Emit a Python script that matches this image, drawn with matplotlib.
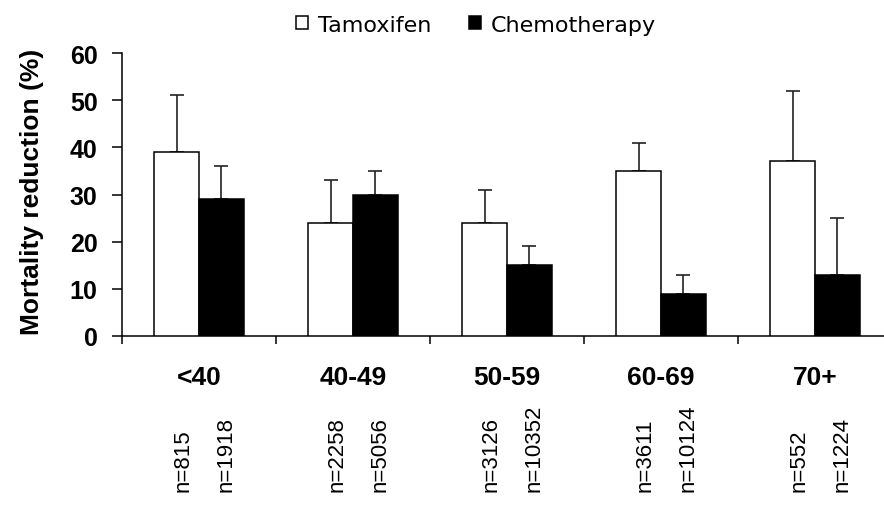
import numpy as np
import matplotlib
matplotlib.use('Agg')
import matplotlib.pyplot as plt
from matplotlib.transforms import blended_transform_factory

# data
ages = ['<40', '40-49', '50-59', '60-69', '70+']
tamoxifen = [39, 24, 24, 35, 37]
tamoxifen_err = [12, 9, 7, 6, 15]
chemo = [29, 30, 15, 9, 13]
chemo_err = [7, 5, 4, 4, 12]
n_tamoxifen = ['n=815', 'n=2258', 'n=3126', 'n=3611', 'n=552']
n_chemo = ['n=1918', 'n=5056', 'n=10352', 'n=10124', 'n=1224']

plt.rcParams['font.family'] = ['Liberation Sans', 'DejaVu Sans']

fig = plt.figure(figsize=(8.84, 5.10), dpi=100)
ax = fig.add_axes([122/884, 173/510, 770/884, 283/510])

x = np.arange(len(ages))
w = 0.29
b1 = ax.bar(x - w/2, tamoxifen, w, color='white', edgecolor='black', linewidth=1.1,
            label='Tamoxifen', zorder=3)
b2 = ax.bar(x + w/2, chemo, w, color='black', edgecolor='black', linewidth=1.1,
            label='Chemotherapy', zorder=3)
ax.errorbar(x - w/2, tamoxifen, yerr=[np.zeros(5), tamoxifen_err], fmt='none',
            ecolor='#222222', elinewidth=1.2, capsize=5, capthick=1.2, zorder=2)
ax.errorbar(x + w/2, chemo, yerr=[np.zeros(5), chemo_err], fmt='none',
            ecolor='#222222', elinewidth=1.2, capsize=5, capthick=1.2, zorder=2)

ax.set_xlim(-0.5, 4.5)
ax.set_ylim(0, 60)
ax.set_yticks(range(0, 61, 10))
ax.set_xticks(np.arange(-0.5, 4.6, 1))
ax.set_xticklabels([])
for s in ['top', 'right']:
    ax.spines[s].set_visible(False)
ax.spines['left'].set_linewidth(1.1)
ax.spines['bottom'].set_linewidth(1.1)
ax.tick_params(axis='y', direction='out', length=7.5, width=1.1, pad=10,
               labelsize=18)
ax.tick_params(axis='x', direction='out', length=6, width=1.1)
for t in ax.get_yticklabels():
    t.set_fontweight('bold')

tr = blended_transform_factory(ax.transData, fig.transFigure)
for i, a in enumerate(ages):
    ax.text(i, 1 - 378/510, a, transform=tr, ha='center', va='center',
            fontsize=19, fontweight='bold')
    ax.text(i - w/2 + 0.04, 18/510, n_tamoxifen[i], transform=tr, rotation=90,
            ha='center', va='bottom', fontsize=16)
    ax.text(i + w/2 + 0.03, 18/510, n_chemo[i], transform=tr, rotation=90,
            ha='center', va='bottom', fontsize=16)

fig.text(32/884, 1 - 192/510, 'Mortality reduction (%)', rotation=90,
         ha='center', va='center', fontsize=19, fontweight='bold')

fig.legend(handles=[b1, b2], loc='upper center', bbox_to_anchor=(476/884, 1.0),
           ncol=2, frameon=False, prop={'family': 'DejaVu Sans', 'size': 16},
           handlelength=0.55, handleheight=0.55, handletextpad=0.45,
           columnspacing=1.7, borderpad=0.2)

fig.savefig('out.png', dpi=100)
